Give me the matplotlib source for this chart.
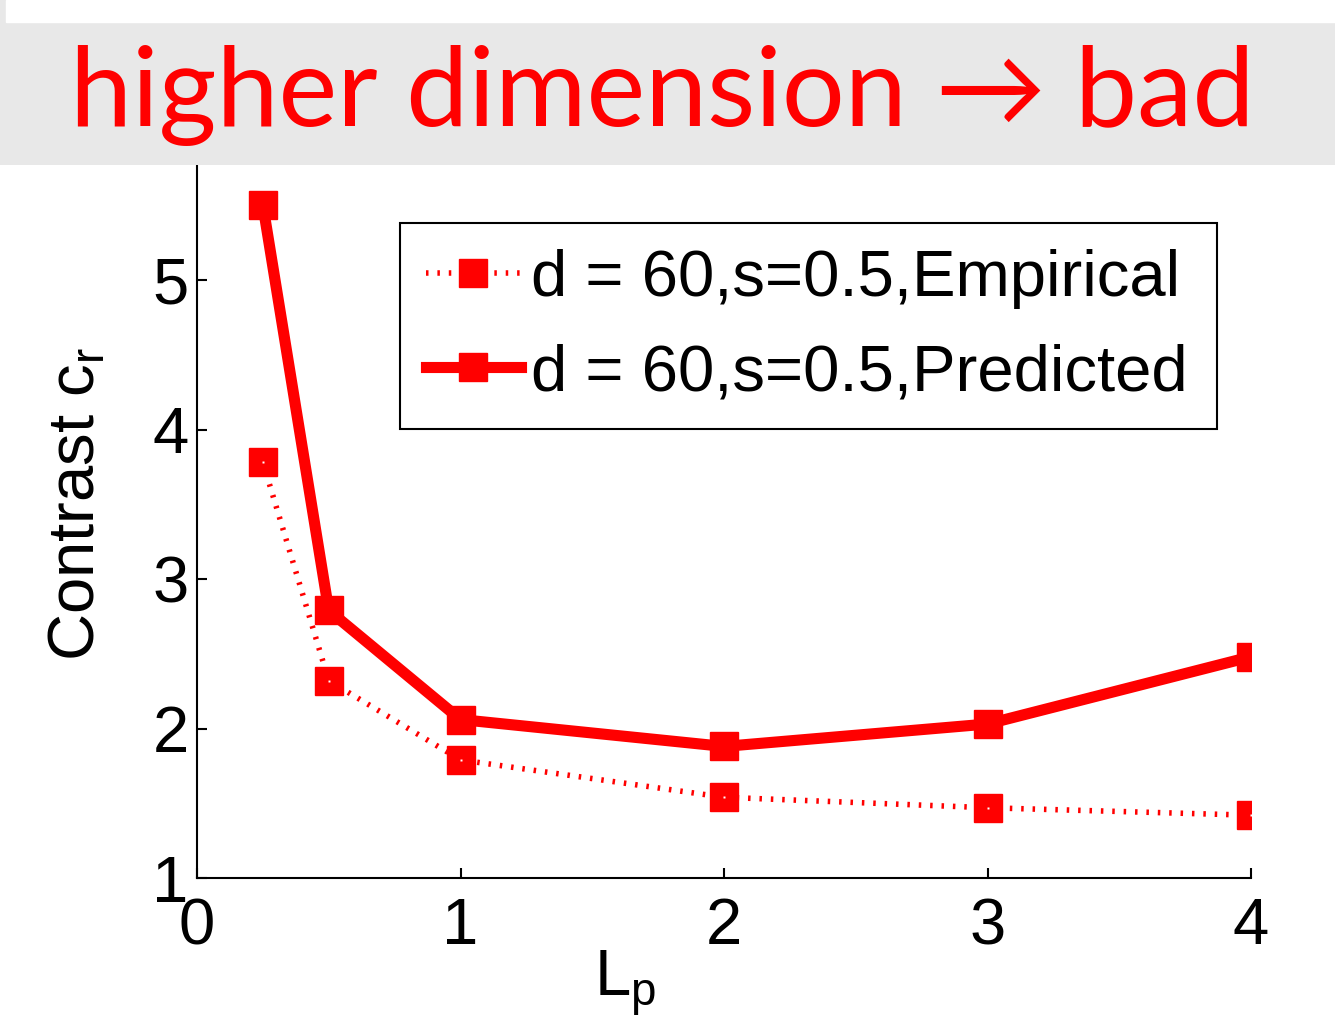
import numpy as np
import matplotlib.pyplot as plt
from matplotlib.patches import Rectangle

# ==============================
# data
# ==============================
lp = [0.25, 0.5, 1, 2, 3, 4]
empirical = [3.78, 2.32, 1.79, 1.54, 1.47, 1.42]
predicted = [5.50, 2.79, 2.06, 1.88, 2.03, 2.48]
xticks = [0, 1, 2, 3, 4]
yticks = [1, 2, 3, 4, 5, 6]
label_emp = "d = 60,s=0.5,Empirical"
label_pred = "d = 60,s=0.5,Predicted"
banner = "higher dimension \u2192 bad"

plt.rcParams['font.family'] = ['Liberation Sans', 'DejaVu Sans']
plt.rcParams['mathtext.default'] = 'regular'

W, H = 1335, 1021
fig = plt.figure(figsize=(W / 100, H / 100), dpi=100)
fig.patch.set_facecolor('white')

# main axes (top at y=6, hidden under the banner)
ax = fig.add_axes([197 / W, 1 - 878 / H, 1054 / W, 747.5 / H])
ax.plot(lp, empirical, color='red', ls=(0, (0.45, 1.6)), lw=4, marker='s', ms=19.5,
        mec='red', mfc='red', label=label_emp)
ax.plot(lp, predicted, color='red', ls='-', lw=8, marker='s', ms=19.5,
        mec='red', mfc='red', label=label_pred)
# little white dots in the marker centres
ax.plot(lp, empirical, ls='none', marker='s', ms=2, color='white', mec='none')

ax.set_xlim(0, 4)
ax.set_ylim(1, 6)
ax.set_xticks(xticks)
ax.set_yticks(yticks)
ax.spines['top'].set_visible(False)
ax.spines['right'].set_visible(False)
for s in ['left', 'bottom']:
    ax.spines[s].set_linewidth(1.5)
ax.tick_params(direction='in', length=7, width=1.5, labelsize=47)
ax.tick_params(axis='x', pad=14)
ax.tick_params(axis='y', pad=6)
ax.set_xlabel("L$_p$", fontsize=47)
ax.xaxis.set_label_coords(0.406, -0.095, transform=ax.transAxes)
ax.xaxis.label.set_va('top')
ax.set_ylabel("Contrast c$_r$", fontsize=47)
ax.yaxis.set_label_coords(-0.085, 0.5, transform=ax.transAxes)

leg = ax.legend(loc='upper left', bbox_to_anchor=(0.1926, 0.603, 0.775, 0.273),
                mode='expand', borderaxespad=0, fontsize=47, handlelength=1.45,
                handletextpad=0.15, labelspacing=0.52, borderpad=0.4,
                fancybox=False, framealpha=1, numpoints=1)
leg.get_frame().set_edgecolor('black')
leg.get_frame().set_linewidth(1.5)

# ==============================
# banner on top
# ==============================
bx = fig.add_axes([0, 1 - 165 / H, 1, 165 / H])
bx.set_xlim(0, W)
bx.set_ylim(165, 0)
bx.axis('off')
bx.add_patch(Rectangle((0, 0), W, 165, color='#e8e8e8', zorder=0))
bx.add_patch(Rectangle((6, 0), W - 6, 22, color='white', zorder=1))
bx.text(70, 126, banner, color='red', fontsize=80, ha='left', va='baseline',
        family=['Lato', 'DejaVu Sans'], zorder=2)

fig.savefig('out.png', dpi=100)
